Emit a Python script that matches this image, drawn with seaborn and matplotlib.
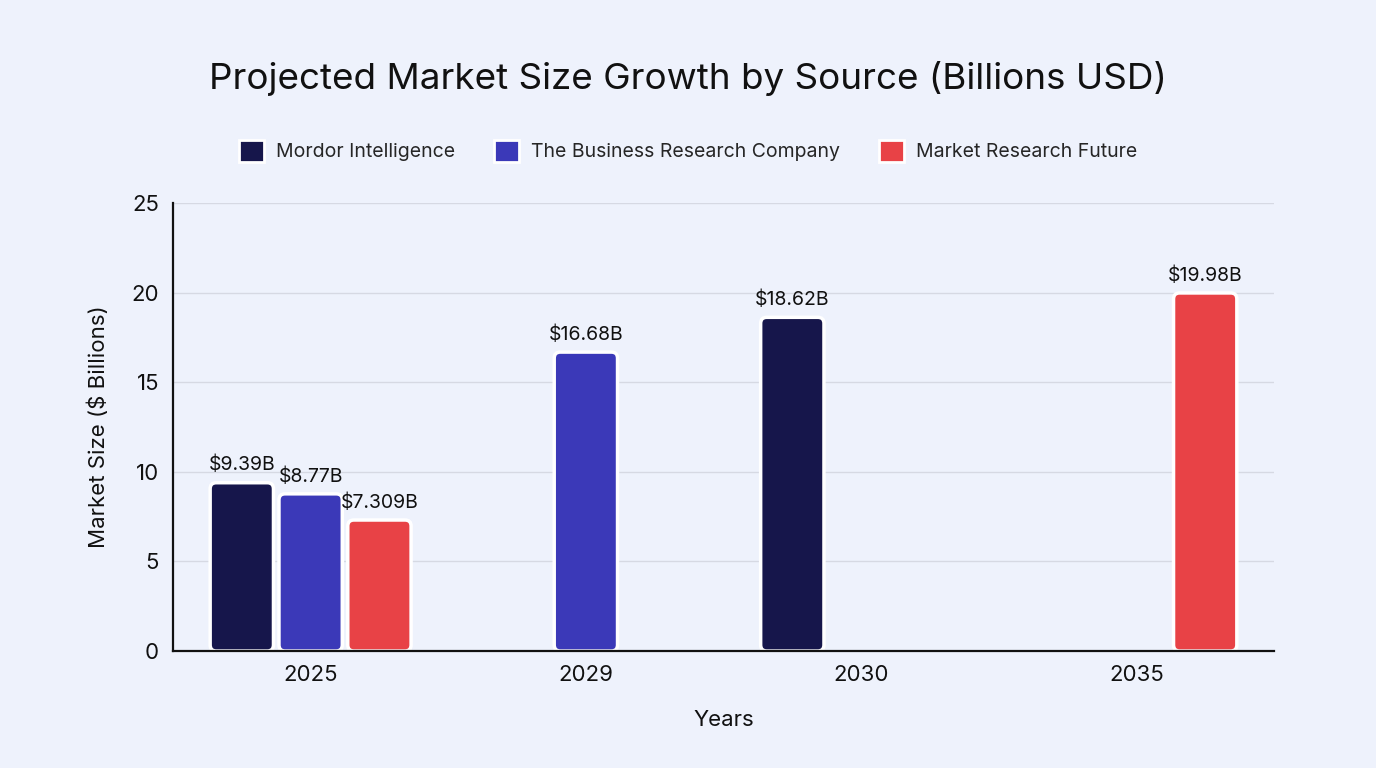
import numpy as np
import pandas as pd
import seaborn as sns
import matplotlib.pyplot as plt
from matplotlib.patches import FancyBboxPatch

# data
years = ['2025', '2025', '2025', '2029', '2030', '2035']
sources = ['Mordor Intelligence', 'The Business Research Company', 'Market Research Future',
           'The Business Research Company', 'Mordor Intelligence', 'Market Research Future']
values = [9.39, 8.77, 7.309, 16.68, 18.62, 19.98]

year_order = ['2025', '2029', '2030', '2035']
source_order = ['Mordor Intelligence', 'The Business Research Company', 'Market Research Future']
colors = ['#16164b', '#3b39b8', '#e84246']

df = pd.DataFrame({'Year': years, 'Source': sources, 'Value': values})

bg = '#eef2fc'
sns.set_theme(style='whitegrid')
plt.rcParams['font.family'] = ['Inter', 'DejaVu Sans']

fig = plt.figure(figsize=(13.76, 7.68), dpi=100, facecolor=bg)
ax = fig.add_axes([173 / 1376, 1 - 651 / 768, 1101 / 1376, 448 / 768])
ax.set_facecolor(bg)

sns.barplot(data=df, x='Year', y='Value', hue='Source', order=year_order, hue_order=source_order,
            palette=colors, saturation=1, width=0.75, gap=0.08, edgecolor='white', linewidth=2.5,
            errorbar=None, legend=False, ax=ax)

ax.set_ylim(0, 25)
ax.set_xlim(-0.5, 3.5)

# value labels above each bar
for cont in ax.containers:
    labels = [r'\$' + f'{b.get_height():g}B' for b in cont]
    ax.bar_label(cont, labels=labels, padding=6, fontsize=14, color='#111111')

# swap the square bars for rounded ones
asp = (1101 / 4) / (448 / 25)
for p in list(ax.patches):
    rb = FancyBboxPatch((p.get_x(), p.get_y()), p.get_width(), p.get_height(),
                        boxstyle='round,pad=0,rounding_size=0.022', mutation_aspect=asp,
                        facecolor=p.get_facecolor(), edgecolor='white', linewidth=2.5, zorder=p.get_zorder())
    p.remove()
    ax.add_patch(rb)

ax.set_yticks(np.arange(0, 26, 5))
ax.grid(axis='y', color='#d6d9e3', linewidth=1)
ax.grid(axis='x', visible=False)
ax.set_axisbelow(True)
for s in ['top', 'right']:
    ax.spines[s].set_visible(False)
for s in ['left', 'bottom']:
    ax.spines[s].set_color('#111111')
    ax.spines[s].set_linewidth(1.6)
    ax.spines[s].set_zorder(5)
ax.tick_params(axis='both', labelsize=16, colors='#111111', length=0, pad=10)

ax.set_xlabel('Years', fontsize=16, color='#111111', labelpad=18)
ax.set_ylabel(r'Market Size (\$ Billions)', fontsize=16, color='#111111', labelpad=16)

fig.text(0.5, 1 - 78 / 768, 'Projected Market Size Growth by Source (Billions USD)',
         ha='center', va='center', fontsize=26.5, color='#111111')

handles = [FancyBboxPatch((0, 0), 1, 1, boxstyle='round,pad=0,rounding_size=0.2',
                          facecolor=c, edgecolor='white', linewidth=2) for c in colors]
fig.legend(handles, source_order, loc='center', bbox_to_anchor=(0.5, 1 - 151 / 768), ncol=3,
           frameon=False, fontsize=14, handlelength=1.3, handleheight=1.4, columnspacing=2.0,
           handletextpad=0.6)

plt.savefig('out.png', dpi=100, facecolor=bg)
